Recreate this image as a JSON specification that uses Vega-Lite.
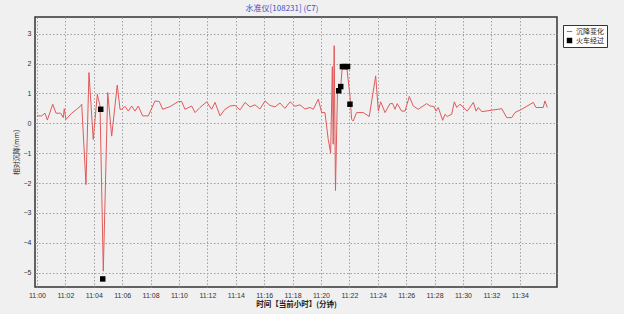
{
  "$schema": "https://vega.github.io/schema/vega-lite/v6.json",
  "width": 522,
  "height": 270,
  "autosize": "none",
  "padding": {"left": 35, "top": 17, "right": 67, "bottom": 27},
  "background": "#f0f0f0",
  "config": {
    "view": {"stroke": "#333333", "strokeWidth": 1.5, "fill": "#f0f0f0"},
    "font": "Liberation Sans"
  },
  "title": {
    "text": "水准仪[108231] (C7)",
    "font": "Noto Sans CJK SC",
    "fontSize": 8,
    "fontWeight": "normal",
    "color": "#3a4fc0",
    "anchor": "middle",
    "offset": 4,
    "dx": -14
  },
  "datasets": {
    "line": [
      {"t": 0, "v": 0.25}, {"t": 0.33, "v": 0.25}, {"t": 0.56, "v": 0.34}, {"t": 0.73, "v": 0.11},
      {"t": 1.11, "v": 0.64}, {"t": 1.34, "v": 0.34}, {"t": 1.67, "v": 0.34}, {"t": 1.85, "v": 0.19},
      {"t": 1.92, "v": 0.49}, {"t": 2.04, "v": 0.13}, {"t": 2.44, "v": 0.34}, {"t": 2.8, "v": 0.47},
      {"t": 3.03, "v": 0.56}, {"t": 3.15, "v": 0.64}, {"t": 3.45, "v": -2.05}, {"t": 3.66, "v": 1.7},
      {"t": 3.96, "v": -0.54}, {"t": 4.25, "v": 0.97}, {"t": 4.44, "v": 0.58}, {"t": 4.67, "v": -4.95},
      {"t": 4.98, "v": 1.03}, {"t": 5.26, "v": -0.43}, {"t": 5.65, "v": 1.28}, {"t": 5.85, "v": 0.47},
      {"t": 5.96, "v": 0.47}, {"t": 6.2, "v": 0.57}, {"t": 6.43, "v": 0.41}, {"t": 6.67, "v": 0.58},
      {"t": 6.9, "v": 0.41}, {"t": 7.13, "v": 0.58}, {"t": 7.44, "v": 0.25}, {"t": 7.84, "v": 0.25},
      {"t": 8.31, "v": 0.75}, {"t": 8.61, "v": 0.73}, {"t": 8.85, "v": 0.47}, {"t": 9.37, "v": 0.56},
      {"t": 9.95, "v": 0.73}, {"t": 10.19, "v": 0.73}, {"t": 10.42, "v": 0.47}, {"t": 10.89, "v": 0.58},
      {"t": 11.13, "v": 0.36}, {"t": 11.48, "v": 0.53}, {"t": 11.95, "v": 0.72}, {"t": 12.3, "v": 0.47},
      {"t": 12.54, "v": 0.7}, {"t": 12.89, "v": 0.25}, {"t": 13.24, "v": 0.47}, {"t": 13.59, "v": 0.58},
      {"t": 13.94, "v": 0.6}, {"t": 14.3, "v": 0.45}, {"t": 14.65, "v": 0.7}, {"t": 15.0, "v": 0.55},
      {"t": 15.35, "v": 0.62}, {"t": 15.7, "v": 0.48}, {"t": 16.06, "v": 0.75}, {"t": 16.41, "v": 0.6},
      {"t": 16.76, "v": 0.55}, {"t": 17.11, "v": 0.68}, {"t": 17.46, "v": 0.5}, {"t": 17.82, "v": 0.72},
      {"t": 18.17, "v": 0.57}, {"t": 18.52, "v": 0.62}, {"t": 18.87, "v": 0.48}, {"t": 19.23, "v": 0.53},
      {"t": 19.46, "v": 0.47}, {"t": 19.81, "v": 0.81}, {"t": 20.05, "v": 0.36}, {"t": 20.28, "v": 0.36},
      {"t": 20.51, "v": -0.54}, {"t": 20.68, "v": -0.99}, {"t": 20.8, "v": 1.9}, {"t": 20.86, "v": -0.7},
      {"t": 20.93, "v": 2.6}, {"t": 21.02, "v": -2.25}, {"t": 21.16, "v": 1.05}, {"t": 21.39, "v": 1.23},
      {"t": 21.5, "v": 1.9}, {"t": 21.81, "v": 1.9}, {"t": 22.04, "v": 0.92}, {"t": 22.16, "v": 0.13},
      {"t": 22.27, "v": 0.08}, {"t": 22.51, "v": 0.36}, {"t": 22.98, "v": 0.36}, {"t": 23.4, "v": 0.23},
      {"t": 23.85, "v": 1.59}, {"t": 24.04, "v": 0.41}, {"t": 24.2, "v": 0.72}, {"t": 24.51, "v": 0.36},
      {"t": 24.86, "v": 0.66}, {"t": 25.05, "v": 0.66}, {"t": 25.21, "v": 0.47}, {"t": 25.37, "v": 0.66},
      {"t": 25.68, "v": 0.41}, {"t": 25.92, "v": 0.41}, {"t": 26.22, "v": 0.9}, {"t": 26.5, "v": 0.58},
      {"t": 26.85, "v": 0.47}, {"t": 27.44, "v": 0.66}, {"t": 27.68, "v": 0.58}, {"t": 27.96, "v": 0.56},
      {"t": 28.1, "v": 0.41}, {"t": 28.26, "v": 0.53}, {"t": 28.57, "v": 0.1}, {"t": 28.73, "v": 0.3},
      {"t": 28.89, "v": 0.23}, {"t": 29.2, "v": 0.3}, {"t": 29.39, "v": 0.72}, {"t": 29.56, "v": 0.53},
      {"t": 29.79, "v": 0.64}, {"t": 30.3, "v": 0.41}, {"t": 30.73, "v": 0.7}, {"t": 30.92, "v": 0.41},
      {"t": 31.08, "v": 0.53}, {"t": 31.32, "v": 0.39}, {"t": 32.73, "v": 0.49}, {"t": 33.08, "v": 0.19},
      {"t": 33.43, "v": 0.19}, {"t": 33.66, "v": 0.36}, {"t": 34.13, "v": 0.47}, {"t": 34.95, "v": 0.7},
      {"t": 35.14, "v": 0.53}, {"t": 35.65, "v": 0.53}, {"t": 35.77, "v": 0.75}, {"t": 35.94, "v": 0.53}
    ],
    "train": [
      {"t": 4.49, "v": 0.47, "series": "火车经过"},
      {"t": 4.63, "v": -5.21, "series": "火车经过"},
      {"t": 21.25, "v": 1.09, "series": "火车经过"},
      {"t": 21.39, "v": 1.23, "series": "火车经过"},
      {"t": 21.51, "v": 1.9, "series": "火车经过"},
      {"t": 21.69, "v": 1.9, "series": "火车经过"},
      {"t": 21.87, "v": 1.9, "series": "火车经过"},
      {"t": 22.04, "v": 0.64, "series": "火车经过"}
    ]
  },
  "encoding": {
    "x": {
      "field": "t",
      "type": "quantitative",
      "scale": {"domain": [-0.14, 36.62], "nice": false, "zero": false},
      "axis": {
        "values": [0, 2, 4, 6, 8, 10, 12, 14, 16, 18, 20, 22, 24, 26, 28, 30, 32, 34],
        "labelExpr": "'11:' + (datum.value < 10 ? '0' : '') + datum.value",
        "domain": false,
        "ticks": false,
        "grid": true,
        "gridColor": "#a0a0a0",
        "gridDash": [1.5, 2],
        "gridWidth": 1,
        "labelFontSize": 7,
        "labelColor": "#333333",
        "labelPadding": 4,
        "title": "时间【当前小时】(分钟)",
        "titleFont": "Noto Sans CJK SC",
        "titleFontSize": 7.5,
        "titleFontWeight": "bold",
        "titleColor": "#222222",
        "titlePadding": 2
      }
    },
    "y": {
      "field": "v",
      "type": "quantitative",
      "scale": {"domain": [-5.48, 3.56], "nice": false, "zero": false},
      "axis": {
        "values": [-5, -4, -3, -2, -1, 0, 1, 2, 3],
        "domain": false,
        "ticks": false,
        "grid": true,
        "gridColor": "#a0a0a0",
        "gridDash": [1.5, 2],
        "gridWidth": 1,
        "labelFontSize": 7,
        "labelColor": "#333333",
        "labelPadding": 4,
        "title": "相对沉降(mm)",
        "titleFont": "Noto Sans CJK SC",
        "titleFontSize": 7,
        "titleFontWeight": "normal",
        "titleColor": "#222222",
        "titlePadding": 4
      }
    }
  },
  "layer": [
    {
      "data": {"name": "line"},
      "mark": {"type": "line", "color": "#e05a5a", "strokeWidth": 1, "interpolate": "linear"}
    },
    {
      "data": {"name": "train"},
      "mark": {"type": "point", "filled": true, "opacity": 1, "size": 30},
      "encoding": {
        "color": {
          "field": "series",
          "type": "nominal",
          "scale": {"domain": ["沉降变化", "火车经过"], "range": ["#e05a5a", "#000000"]},
          "legend": {
            "title": null,
            "orient": "none",
            "legendX": 528,
            "legendY": 8,
            "fillColor": "#ffffff",
            "strokeColor": "#333333",
            "padding": 3,
            "rowPadding": 1,
            "labelFont": "Noto Sans CJK SC",
            "labelFontSize": 7,
            "labelColor": "#222222",
            "symbolSize": 30,
            "labelOffset": 3
          }
        },
        "shape": {
          "field": "series",
          "type": "nominal",
          "scale": {"domain": ["沉降变化", "火车经过"], "range": ["M-1,-0.2H1V0.2H-1Z", "square"]},
          "legend": {
            "title": null,
            "orient": "none",
            "legendX": 528,
            "legendY": 8,
            "fillColor": "#ffffff",
            "strokeColor": "#333333",
            "padding": 3,
            "rowPadding": 1,
            "labelFont": "Noto Sans CJK SC",
            "labelFontSize": 7,
            "labelColor": "#222222",
            "symbolSize": 30,
            "labelOffset": 3
          }
        }
      }
    }
  ]
}
